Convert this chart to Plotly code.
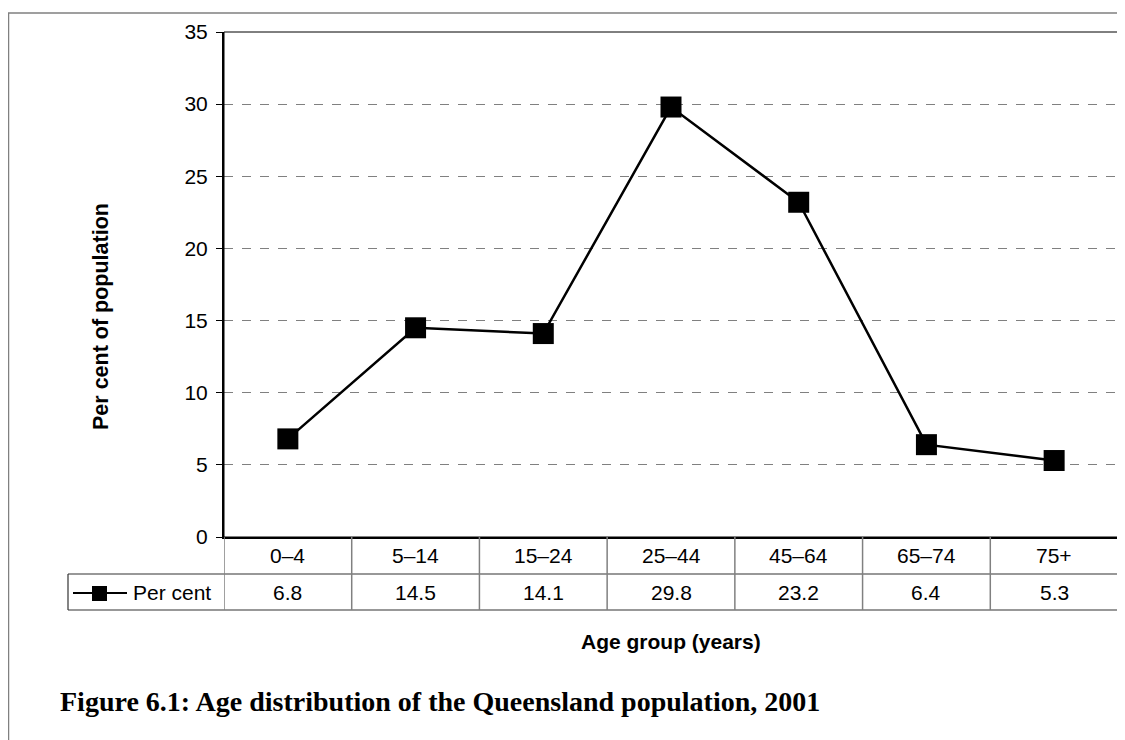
import plotly.graph_objects as go

# data
age_groups = ["0–4", "5–14", "15–24", "25–44", "45–64", "65–74", "75+"]
per_cent = [6.8, 14.5, 14.1, 29.8, 23.2, 6.4, 5.3]
y_ticks = [0, 5, 10, 15, 20, 25, 30, 35]

W, H = 1125, 740
OFF = 8  # page body margin around the plotly div
# plot area in page pixels
L, R, T, B = 224, 1118, 32, 537


def px(x):
    # page pixel x -> paper x
    return (x - L) / (R - L)


def py(y):
    # page pixel y -> paper y
    return (B - y) / (B - T)


fig = go.Figure()
fig.add_trace(go.Scatter(x=age_groups, y=per_cent, mode="lines+markers",
                         name="Per cent",
                         line=dict(color="black", width=2.5),
                         marker=dict(symbol="square", size=21, color="black"),
                         showlegend=False, cliponaxis=False))

grey = "#808080"
shapes = []
# thin border of plot area (top / right)
shapes.append(dict(type="rect", xref="paper", yref="paper", x0=0, x1=1, y0=0, y1=1,
                   line=dict(color="black", width=1), layer="above"))
# outer frame (cut off at right/bottom)
shapes.append(dict(type="rect", xref="paper", yref="paper", x0=px(8.5), x1=px(1200),
                   y0=py(800), y1=py(13), line=dict(color=grey, width=1.5)))

# data table
row1, row2 = 574, 610
tl = dict(color="#333333", width=1.2)
shapes.append(dict(type="line", xref="paper", yref="paper", x0=px(68), x1=1,
                   y0=py(row1), y1=py(row1), line=tl))
shapes.append(dict(type="line", xref="paper", yref="paper", x0=px(68), x1=1,
                   y0=py(row2), y1=py(row2), line=tl))
shapes.append(dict(type="line", xref="paper", yref="paper", x0=px(68), x1=px(68),
                   y0=py(row1), y1=py(row2), line=tl))
for i in range(len(age_groups) + 1):
    shapes.append(dict(type="line", xref="x", yref="paper", x0=i - 0.5, x1=i - 0.5,
                       y0=0, y1=py(row2), line=dict(color=grey, width=1.5)))

# legend key in table
ky = (row1 + row2) / 2
shapes.append(dict(type="line", xref="paper", yref="paper", x0=px(73), x1=px(127),
                   y0=py(ky + 1), y1=py(ky + 1), line=dict(color="black", width=2)))
shapes.append(dict(type="rect", xref="paper", yref="paper", x0=px(92), x1=px(107),
                   y0=py(ky + 9), y1=py(ky - 6), fillcolor="black",
                   line=dict(color="black", width=0)))

fam = "Liberation Sans, Arial, sans-serif"
font = dict(family=fam, size=21, color="black")
ann = []
for i, (g, v) in enumerate(zip(age_groups, per_cent)):
    ann.append(dict(x=i, y=py((B + row1) / 2), xref="x", yref="paper", text=g,
                    xanchor="center", yanchor="middle", showarrow=False, font=font))
    ann.append(dict(x=i, y=py(ky), xref="x", yref="paper", text=f"{v:.1f}",
                    xanchor="center", yanchor="middle", showarrow=False, font=font))
ann.append(dict(x=px(131), y=py(ky), xref="paper", yref="paper", text="Per cent",
                xanchor="left", yanchor="middle", showarrow=False, font=font))
ann.append(dict(x=px(671), y=py(641), xref="paper", yref="paper", text="<b>Age group (years)</b>",
                xanchor="center", yanchor="middle", showarrow=False,
                font=dict(family=fam, size=21, color="black")))
ann.append(dict(x=px(101), y=py(317), xref="paper", yref="paper",
                text="<b>Per cent of population</b>", textangle=-90,
                xanchor="center", yanchor="middle", showarrow=False,
                font=dict(family=fam, size=21.5, color="black")))
ann.append(dict(x=px(58), y=py(701), xref="paper", yref="paper",
                xanchor="left", yanchor="middle",
                text="<b>Figure 6.1: Age distribution of the Queensland population, 2001</b>",
                showarrow=False,
                font=dict(family="Liberation Serif, Times New Roman, serif", size=28,
                          color="black")))

fig.update_layout(
    width=W - OFF, height=H - OFF,
    margin=dict(l=L - OFF, r=W - R, t=T - OFF, b=H - B, pad=0),
    paper_bgcolor="white", plot_bgcolor="white",
    shapes=shapes, annotations=ann,
    xaxis=dict(type="category", range=[-0.5, len(age_groups) - 0.5],
               showticklabels=False, ticks="", showgrid=False,
               showline=True, linecolor="black", linewidth=2, zeroline=False),
    yaxis=dict(range=[0, 35], tickvals=y_ticks, ticks="outside", ticklen=6,
               tickcolor="black", tickfont=font, ticklabelstandoff=4,
               showgrid=True, gridcolor=grey, griddash="dash", gridwidth=1,
               showline=True, linecolor="black", linewidth=2, zeroline=False),
)

fig.write_html("out.html")
